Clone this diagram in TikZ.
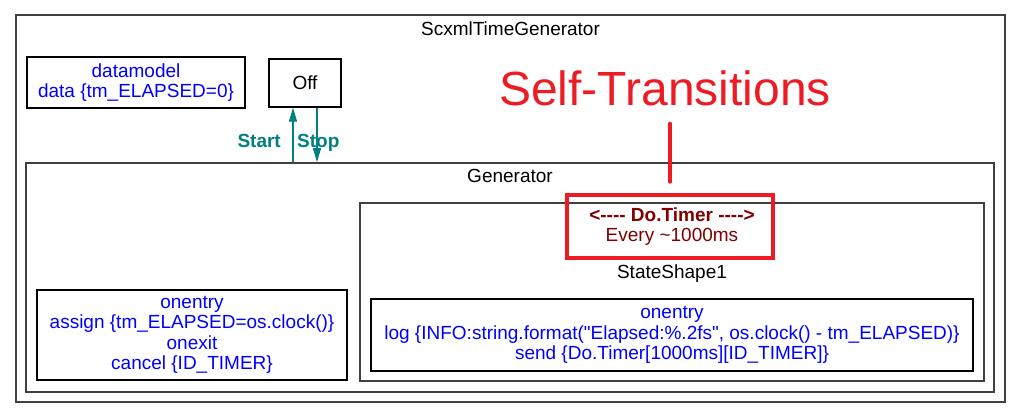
\documentclass[tikz,border=0pt]{standalone}
\usepackage{fontspec}
\setmainfont{Liberation Sans}
\usetikzlibrary{arrows.meta,positioning}

\definecolor{actionblue}{RGB}{0,0,255}
\definecolor{eventred}{RGB}{128,0,0}
\definecolor{transteal}{RGB}{0,128,128}
\definecolor{markred}{RGB}{237,28,36}

\newcommand\diagfont{\fontsize{19}{20.5}\selectfont}

\tikzset{
  container/.style={draw=black!75, line width=1.7pt},
  statebox/.style={draw=black, line width=1.3pt, align=center, inner sep=0pt},
  actions/.style={statebox, text=actionblue},
  transition/.style={draw=transteal, line width=1.2pt, -{Triangle[length=14pt,width=8pt]}},
  eventlabel/.style={text=transteal, font=\diagfont\bfseries, inner sep=0pt},
  markbox/.style={draw=markred, line width=4.5pt}
}

\begin{document}
\begin{tikzpicture}[x=1pt, y=-1pt, font=\diagfont]

  \useasboundingbox (0,0) rectangle (1021,419);

  \foreach \name/\cx/\cy/\w/\h in {machine/510.5/208.5/989/387,
                                   generator/510/277.5/968/229,
                                   shape/672/292/624/178}
    \node[container, minimum width=\w, minimum height=\h] (\name) at (\cx,\cy) {};

  \node[anchor=base] (machinelbl) at ([yshift=-21pt]machine.north) {ScxmlTimeGenerator};
  \node[anchor=base] (generatorlbl) at ([yshift=-20pt]generator.north) {Generator};
  \node[anchor=base, text=eventred, font=\diagfont\bfseries] (timerevt)
    at ([yshift=-19pt]shape.north) {<-{}-{}-{}- Do.Timer -{}-{}-{}->};
  \node[anchor=base, text=eventred] (timerdelay)
    at ([yshift=-39pt]shape.north) {Every \textasciitilde1000ms};
  \node[anchor=base] (shapelbl) at ([yshift=-76pt]shape.north) {StateShape1};

  \node[actions, minimum width=218, minimum height=51] (datamodel) at (136,82.5)
    {datamodel\\data \{tm\_ELAPSED=0\}};
  \node[statebox, minimum width=72, minimum height=48] (off) at (305,83) {Off};

  \node[actions, minimum width=310, minimum height=90] (genentry) at (192,335)
    {onentry\\assign \{tm\_ELAPSED=os.clock()\}\\onexit\\cancel \{ID\_TIMER\}};
  \node[actions, minimum width=602, minimum height=72] (shapeentry) at (672,335)
    {onentry\\log \{INFO:string.format(\textquotedbl Elapsed:\%.2fs\textquotedbl, os.clock() - tm\_ELAPSED)\}\\send \{Do.Timer[1000ms][ID\_TIMER]\}};

  % transitions between Off and Generator
  \coordinate (starttop) at ([xshift=-12pt]off.south);
  \coordinate (stoptop) at ([xshift=12pt]off.south);
  \draw[transition] (starttop |- generator.north) -- (starttop);
  \draw[transition] (stoptop) -- (stoptop |- generator.north);
  \node[eventlabel, anchor=base east] (startlbl) at ([xshift=-12pt, yshift=-40pt]starttop) {Start};
  \node[eventlabel, anchor=base west] (stoplbl) at ([xshift=-20pt, yshift=-40pt]stoptop) {Stop};

  % annotation
  \node[markbox, minimum width=206, minimum height=63] (timermark) at (670,226.5) {};
  \node[anchor=base, text=markred, font=\fontsize{48}{56}\selectfont, inner sep=0pt] (selftitle)
    at (665,106) {Self-Transitions};
  \draw[markred, line width=4pt, line cap=round, shorten <=17pt, shorten >=11pt]
    (selftitle.south -| timermark.north) -- (timermark.north);

\end{tikzpicture}
\end{document}
